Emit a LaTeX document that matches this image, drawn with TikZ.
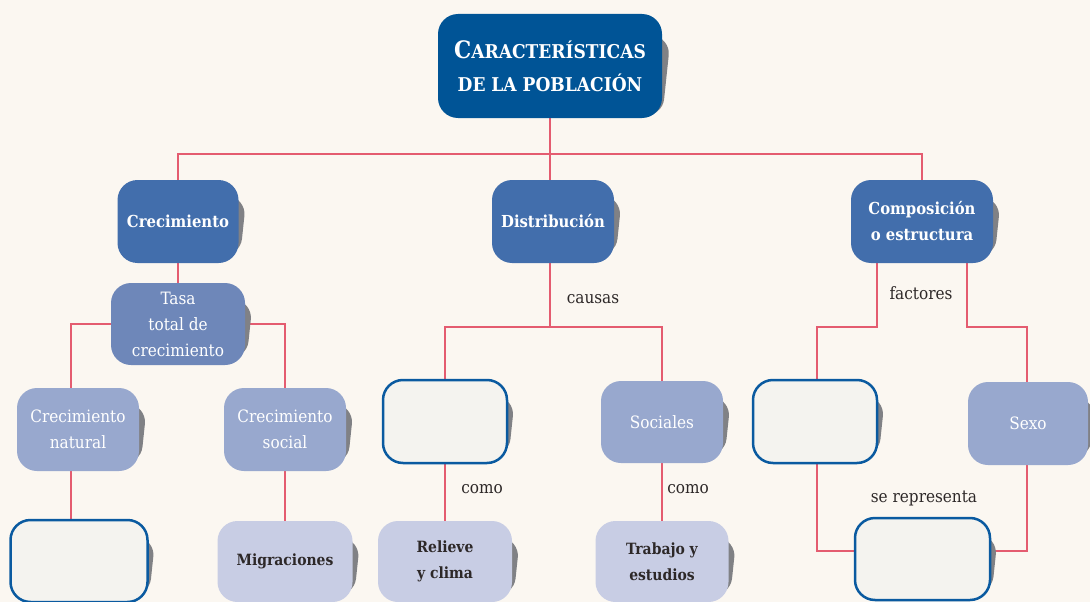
\documentclass[tikz,border=0pt]{standalone}
\usepackage{fontspec}
\setmainfont{DejaVu Serif Condensed}
\usepackage{tikz}
\usetikzlibrary{positioning}
\definecolor{paper}{RGB}{251,247,241}
\definecolor{titleblue}{RGB}{0,84,150}
\definecolor{midblue}{RGB}{66,110,172}
\definecolor{tasablue}{RGB}{110,135,185}
\definecolor{softblue}{RGB}{152,168,206}
\definecolor{paleblue}{RGB}{200,205,228}
\definecolor{blankfill}{RGB}{244,243,239}
\definecolor{edgeblue}{RGB}{10,90,160}
\definecolor{linkred}{RGB}{228,92,112}
\definecolor{shadowgray}{RGB}{128,129,133}
\definecolor{inkdark}{RGB}{45,40,40}
\pgfdeclarelayer{back}
\pgfdeclarelayer{shade}
\pgfsetlayers{back,shade,main}

\begin{document}
\begin{tikzpicture}[
  x=1pt,y=-1pt,
  card/.style={rounded corners=20pt,inner sep=0pt,align=center},
  topbox/.style={card,fill=titleblue,text=white,
                 font=\bfseries\fontsize{19}{33}\selectfont},
  mainbox/.style={card,fill=midblue,text=white,
                  font=\bfseries\fontsize{16.5}{26}\selectfont},
  tasabox/.style={card,fill=tasablue,text=white,
                  font=\fontsize{17}{26}\selectfont},
  subbox/.style={card,fill=softblue,text=white,
                 font=\fontsize{17}{26}\selectfont},
  leafbox/.style={card,fill=paleblue,text=inkdark,
                  font=\bfseries\fontsize{15.5}{26}\selectfont},
  blankbox/.style={card,fill=blankfill,draw=edgeblue,line width=2.5pt},
  shadowbox/.style={rounded corners=18pt,fill=shadowgray,inner sep=0pt},
  link/.style={draw=linkred,line width=2pt},
  tag/.style={text=inkdark,font=\fontsize{17}{20}\selectfont}
]
\useasboundingbox (0,0) rectangle (1090,602);

% Title
\node[topbox,minimum width=224pt,minimum height=104pt] (title) at (550,66)
  {{\fontsize{24}{33}\selectfont C}ARACTERÍSTICAS\\DE LA POBLACIÓN};

% First level
\node[mainbox,minimum width=121pt,minimum height=83pt] (crec) at (178,221.5) {Crecimiento};
\node[mainbox,minimum width=122pt,minimum height=83pt] (dist) at (553,221.5) {Distribución};
\node[mainbox,minimum width=142pt,minimum height=83pt] (comp) at (922,221.5) {Composición\\o estructura};

% Crecimiento branch
\node[tasabox,minimum width=134pt,minimum height=82pt] (tasa) at (178,324) {Tasa\\total de\\crecimiento};
\node[subbox,minimum width=122pt,minimum height=83pt] (cnat) at (78,429.5) {Crecimiento\\natural};
\node[subbox,minimum width=122pt,minimum height=83pt] (csoc) at (285,429.5) {Crecimiento\\social};
\node[blankbox,minimum width=137pt,minimum height=82pt] (blank1) at (79,561) {};
\node[leafbox,minimum width=135pt,minimum height=81pt] (migr) at (285,561.5) {Migraciones};

% Distribucion branch
\node[blankbox,minimum width=124pt,minimum height=83pt] (blank2) at (445,421.5) {};
\node[subbox,minimum width=122pt,minimum height=82pt] (soc) at (662,422) {Sociales};
\node[leafbox,minimum width=134pt,minimum height=81pt] (relieve) at (445,561.5) {Relieve\\y clima};
\node[leafbox,minimum width=133pt,minimum height=81pt] (trabajo) at (662,561.5) {Trabajo y\\estudios};

% Composicion branch
\node[blankbox,minimum width=124pt,minimum height=83pt] (blank3) at (815,421.5) {};
\node[subbox,minimum width=120pt,minimum height=83pt] (sexo) at (1028,423.5) {Sexo};
\node[blankbox,minimum width=135pt,minimum height=82pt] (blank4) at (922.5,559) {};

% Shadows behind the boxes
\begin{pgfonlayer}{shade}
\foreach \n/\w/\h in {title/224/104, crec/121/83, dist/122/83, comp/142/83,
    tasa/134/82, cnat/122/83, csoc/122/83, blank1/137/82, migr/135/81,
    blank2/124/83, soc/122/82, relieve/134/81, trabajo/133/81,
    blank3/124/83, sexo/120/83, blank4/135/82} {
  \node[shadowbox,rotate=-6,minimum width=\w-10,minimum height=\h-24]
    at ([xshift=10pt]\n.center) {};
}
\end{pgfonlayer}

% Connectors
\begin{pgfonlayer}{back}
\fill[paper] (0,0) rectangle (1090,602);
\draw[link] (title.south) -- ++(0,36) coordinate (hub);
\draw[link] (hub) -| (crec.north);
\draw[link] (hub) -| (comp.north);
\draw[link] (hub) -- ([xshift=-3pt]dist.north);

\draw[link] (crec.south) -- (tasa.north);
\draw[link] (tasa.west) -| ([xshift=-7pt]cnat.north);
\draw[link] (tasa.east) -| (csoc.north);
\draw[link] ([xshift=-7pt]cnat.south) -- ([xshift=-8pt]blank1.north);
\draw[link] (csoc.south) -- (migr.north);

\draw[link] ([xshift=-3pt]dist.south) -- ++(0,64) coordinate (dsplit);
\draw[link] (dsplit) -| (blank2.north);
\draw[link] (dsplit) -| (soc.north);
\draw[link] (blank2.south) -- (relieve.north);
\draw[link] (soc.south) -- (trabajo.north);

\draw[link] ([xshift=-45pt]comp.south) -- ++(0,64) -| ([xshift=2pt]blank3.north);
\draw[link] ([xshift=45pt]comp.south) -- ++(0,64) -| ([xshift=-1pt]sexo.north);
\draw[link] ([xshift=2pt]blank3.south) |- ([yshift=8pt]blank4.west);
\draw[link] ([xshift=-1pt]sexo.south) |- ([yshift=8pt]blank4.east);
\end{pgfonlayer}

% Labels
\node[tag] (causas) at (593,299) {causas};
\node[tag] (como1) at (482,489) {como};
\node[tag] (como2) at (688,489) {como};
\node[tag] (factores) at (921,293) {factores};
\node[tag] (serep) at (924,498) {se representa};

\end{tikzpicture}
\end{document}
